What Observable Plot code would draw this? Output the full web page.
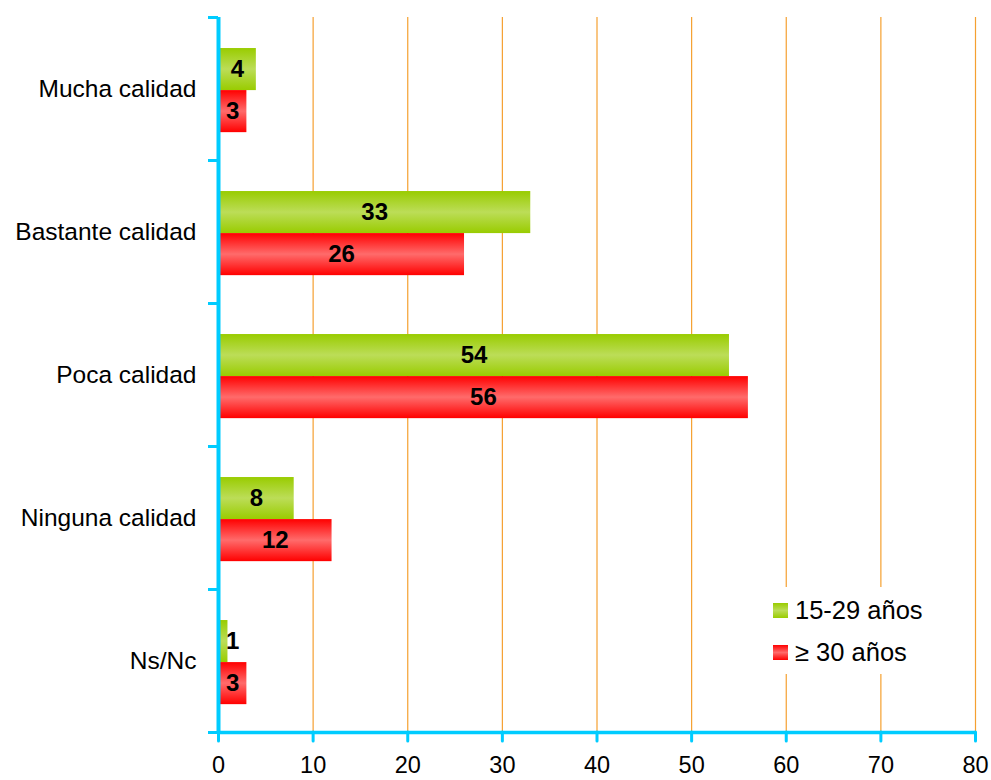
<!DOCTYPE html>
<html>
<head>
<meta charset="utf-8">
<script src="https://cdn.jsdelivr.net/npm/d3@7"></script>
<script src="https://cdn.jsdelivr.net/npm/@observablehq/plot@0.6"></script>
<style>
  body { margin: 0; background: #fff; font-family: "Liberation Sans", Arial, sans-serif; }
  #wrap { position: relative; width: 991px; height: 780px; }
  #legend { position: absolute; left: 760px; top: 587px; width: 205px; height: 87px; background: #fff; }
  .item { position: absolute; left: 13px; height: 30px; display: flex; align-items: center; font-size: 25.5px; color: #000; white-space: nowrap; }
  .sw { width: 15px; height: 15px; margin-right: 7px; }
</style>
</head>
<body>
<div id="wrap"></div>
<script>
const categories = ["Mucha calidad", "Bastante calidad", "Poca calidad", "Ninguna calidad", "Ns/Nc"];
const series = ["15-29 años", "≥ 30 años"];
const young = [4, 33, 54, 8, 1];
const old = [3, 26, 56, 12, 3];
const xTicks = [0, 10, 20, 30, 40, 50, 60, 70, 80];

const cyan = "#00CCFF";
const orange = "#F5A030";

// position of each series inside a category band (fraction of the band)
const sub = d3.scaleBand().domain(series).range([0, 1]).paddingInner(0).paddingOuter(0.7).align(0.527);

const rows = categories.flatMap((c, i) => [
  {cat: c, i, s: series[0], value: young[i]},
  {cat: c, i, s: series[1], value: old[i]}
]);
const y1 = d => d.i + sub(d.s);
const y2 = d => d.i + sub(d.s) + sub.bandwidth();

const defs = () => {
  const g = document.createElementNS("http://www.w3.org/2000/svg", "defs");
  g.innerHTML = `
    <linearGradient id="gradGreen" x1="0" y1="0" x2="0" y2="1">
      <stop offset="0" stop-color="#99CC00"/>
      <stop offset="0.5" stop-color="#BCDD58"/>
      <stop offset="1" stop-color="#99CC00"/>
    </linearGradient>
    <linearGradient id="gradRed" x1="0" y1="0" x2="0" y2="1">
      <stop offset="0" stop-color="#FF0000"/>
      <stop offset="0.5" stop-color="#FF6B6B"/>
      <stop offset="1" stop-color="#FF0000"/>
    </linearGradient>`;
  return g;
};

const chart = Plot.plot({
  width: 991,
  height: 780,
  marginTop: 17,
  marginBottom: 48,
  marginLeft: 218,
  marginRight: 16,
  style: {fontFamily: "'Liberation Sans', Arial, sans-serif", fontSize: "23.5px", color: "#000", background: "#fff"},
  x: {domain: [0, 80], label: null},
  y: {type: "linear", domain: [0, 5], reverse: true, label: null},
  marks: [
    defs,
    Plot.ruleX(xTicks.filter(v => v > 0), {stroke: orange, strokeWidth: 1.2}),
    Plot.rectX(rows.filter(d => d.s === series[0]), {x1: 0, x2: "value", y1, y2, fill: "url(#gradGreen)"}),
    Plot.rectX(rows.filter(d => d.s === series[1]), {x1: 0, x2: "value", y1, y2, fill: "url(#gradRed)"}),
    Plot.text(rows, {
      x: d => Math.max(d.value / 2, 1.5),
      y: d => (y1(d) + y2(d)) / 2,
      text: d => String(d.value),
      fontWeight: "bold",
      fontSize: 24,
      fill: "#000"
    }),
    Plot.ruleY([5], {stroke: cyan, strokeWidth: 3.5}),
    Plot.ruleX([0], {stroke: cyan, strokeWidth: 4}),
    Plot.axisY(d3.range(6), {tickSize: 10, tickFormat: () => "", stroke: cyan, strokeWidth: 3, label: null}),
    Plot.axisY(categories.map((c, i) => i + 0.5), {
      tickSize: 0,
      tickPadding: 22,
      tickFormat: v => categories[Math.floor(v)],
      fontSize: 24.5,
      label: null
    }),
    Plot.axisX(xTicks, {tickSize: 9, tickPadding: 15, stroke: cyan, strokeWidth: 3, strokeLinecap: "round", fontSize: 23.5, label: null})
  ]
});

const wrap = document.getElementById("wrap");
wrap.appendChild(chart);

const legend = document.createElement("div");
legend.id = "legend";
legend.innerHTML = `
  <div class="item" style="top:8px"><div class="sw" style="background:linear-gradient(#99CC00,#BCDD58,#99CC00)"></div>${series[0]}</div>
  <div class="item" style="top:50px"><div class="sw" style="background:linear-gradient(#FF0000,#FF6B6B,#FF0000)"></div>${series[1]}</div>`;
wrap.appendChild(legend);
</script>
</body>
</html>
